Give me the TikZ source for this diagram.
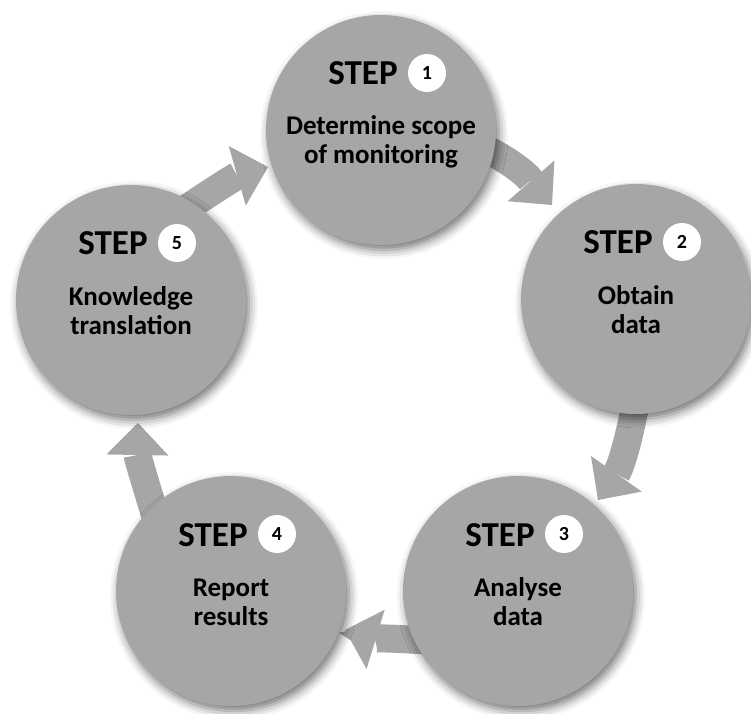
\documentclass[tikz,border=0pt]{standalone}
\usepackage{fontspec}
\setmainfont{Carlito}
\usetikzlibrary{arrows.meta,calc,shadows.blur}
\pgfdeclarelayer{background}
\pgfsetlayers{background,main}
\definecolor{cgrey}{HTML}{A6A6A6}
\begin{document}
\begin{tikzpicture}[x=1pt,y=1pt,
  stepcirc/.style={circle, fill=cgrey, minimum size=230pt, inner sep=0pt, outer sep=0pt,
    blur shadow={shadow xshift=3pt, shadow yshift=-5pt, shadow blur radius=9pt, shadow opacity=55}},
  badge/.style={circle, fill=white, minimum size=38pt, inner sep=0pt,
    font=\bfseries\fontsize{20}{20}\selectfont},
  steplbl/.style={font=\bfseries\fontsize{35}{35}\selectfont, inner sep=0pt, anchor=base},
  body/.style={font=\bfseries\fontsize{27}{29}\selectfont, inner sep=0pt, anchor=base},
  flow/.style={draw=cgrey, line width=28pt,
    -{Triangle[length=32pt,width=62pt,line width=0pt]}, shorten <=-30pt}
]
\useasboundingbox (0,0) rectangle (751,713);

% circles
\node[stepcirc] (s1) at (381,583) {};
\node[stepcirc] (s2) at (636,414) {};
\node[stepcirc] (s3) at (518,122) {};
\node[stepcirc] (s4) at (231,122) {};
\node[stepcirc] (s5) at (131,413) {};

% arrow tips
\coordinate (t12) at (552,508);
\coordinate (t23) at (598,213);
\coordinate (t34) at (345,83);
\coordinate (t45) at (138,290);
\coordinate (t51) at (268,546);

\begin{pgfonlayer}{background}
\draw[flow] (s1.-11) to[out=-25,in=131] (t12);
\draw[flow] (s2.-91) to[out=-100,in=55] (t23);
\draw[flow] (s3.205) to[out=176,in=-17] (t34);
\draw[flow] (s4.133) to[out=107,in=-91] (t45);
\draw[flow] (s5.57) to[out=34,in=-164] (t51);
\end{pgfonlayer}

% labels
\foreach \s/\n/\la/\lb in {s1/1/Determine scope/of monitoring,
                          s2/2/Obtain/data,
                          s3/3/Analyse/data,
                          s4/4/Report/results,
                          s5/5/Knowledge/translation}{
  \node[steplbl] (\s-step) at ($(\s)+(-18,45)$) {STEP};
  \node[badge] (\s-num) at ($(\s)+(46,57)$) {\n};
  \node[body] (\s-la) at ($(\s)+(0,-5)$) {\la};
  \node[body] (\s-lb) at ($(\s)+(0,-34)$) {\lb};
}
\end{tikzpicture}
\end{document}
